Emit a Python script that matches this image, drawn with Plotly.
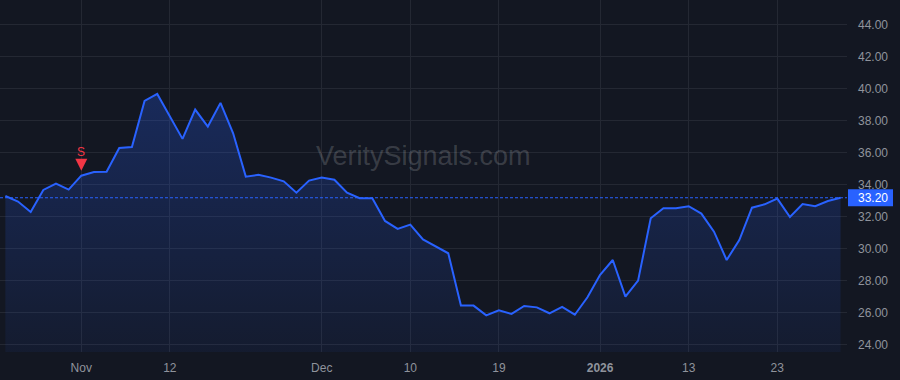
import plotly.graph_objects as go

# Trading days (Oct 24, 2025 - Jan 30, 2026)
dates = [
    "2025-10-24", "2025-10-27", "2025-10-28", "2025-10-29", "2025-10-30", "2025-10-31",
    "2025-11-03", "2025-11-04", "2025-11-05", "2025-11-06", "2025-11-07",
    "2025-11-10", "2025-11-11", "2025-11-12", "2025-11-13", "2025-11-14",
    "2025-11-17", "2025-11-18", "2025-11-19", "2025-11-20", "2025-11-21",
    "2025-11-24", "2025-11-25", "2025-11-26", "2025-11-28",
    "2025-12-01", "2025-12-02", "2025-12-03", "2025-12-04", "2025-12-05",
    "2025-12-08", "2025-12-09", "2025-12-10", "2025-12-11", "2025-12-12",
    "2025-12-15", "2025-12-16", "2025-12-17", "2025-12-18", "2025-12-19",
    "2025-12-22", "2025-12-23", "2025-12-24", "2025-12-26",
    "2025-12-29", "2025-12-30", "2025-12-31", "2026-01-02",
    "2026-01-05", "2026-01-06", "2026-01-07", "2026-01-08", "2026-01-09",
    "2026-01-12", "2026-01-13", "2026-01-14", "2026-01-15", "2026-01-16",
    "2026-01-20", "2026-01-21", "2026-01-22", "2026-01-23",
    "2026-01-26", "2026-01-27", "2026-01-28", "2026-01-29", "2026-01-30",
]

prices = [
    33.31, 32.96, 32.31, 33.69, 34.08, 33.71,
    34.58, 34.81, 34.83, 36.31, 36.37,
    39.25, 39.69, 38.27, 36.88, 38.71,
    37.65, 39.13, 37.23, 34.52, 34.63,
    34.46, 34.23, 33.52, 34.27,
    34.46, 34.33, 33.52, 33.17, 33.17,
    31.75, 31.25, 31.52, 30.60, 30.15,
    29.73, 26.46, 26.46, 25.85, 26.16,
    25.94, 26.44, 26.35, 25.98,
    26.38, 25.89, 26.98, 28.38,
    29.31, 27.02, 28.02, 31.92, 32.54,
    32.54, 32.67, 32.21, 31.08, 29.31,
    30.56, 32.58, 32.79, 33.15,
    32.00, 32.81, 32.67, 33.00, 33.20,
]

tick_dates = ["2025-11-03", "2025-11-12", "2025-12-01", "2025-12-10",
              "2025-12-19", "2026-01-02", "2026-01-13", "2026-01-23"]
tick_text = ["Nov", "12", "Dec", "10", "19", "<b>2026</b>", "13", "23"]

y_ticks = [24, 26, 28, 30, 32, 34, 36, 38, 40, 42, 44]

signal_date = "2025-11-03"
signal_label = "S"
last_price = prices[-1]
watermark = "VeritySignals.com"

BG = "#131722"
GRID = "#242833"
TXT = "#8f939c"
BLUE = "#2962ff"
RED = "#f23645"
FONT = "Liberation Sans, Arial, sans-serif"

xi = list(range(len(dates)))
tick_vals = [dates.index(d) for d in tick_dates]
sig_i = dates.index(signal_date)

fig = go.Figure()
fig.add_trace(go.Scatter(
    x=xi, y=prices, mode="lines",
    line=dict(color=BLUE, width=2),
    fill="tozeroy",
    fillgradient=dict(
        type="vertical",
        colorscale=[[0, "rgba(41,98,255,0.06)"], [1, "rgba(41,98,255,0.26)"]],
        start=23.5, stop=40,
    ),
    customdata=dates,
    hovertemplate="%{customdata}<br>%{y:.2f}<extra></extra>",
    showlegend=False,
))

# last price dotted line
fig.add_shape(type="line", xref="paper", x0=0, x1=1, yref="y",
              y0=last_price, y1=last_price,
              line=dict(color=BLUE, width=1, dash="3px,2px"), layer="above")

# price label box
fig.add_shape(type="rect", xref="paper", xsizemode="pixel", xanchor=1,
              x0=1, x1=46, yref="y", ysizemode="pixel", yanchor=last_price,
              y0=-8.5, y1=8.5, fillcolor=BLUE, line=dict(width=0), layer="above")
fig.add_annotation(xref="paper", x=1, y=last_price, yref="y",
                   xanchor="left", xshift=9, yshift=0,
                   text=f"{last_price:.2f}", showarrow=False,
                   font=dict(color="#ffffff", size=12, family=FONT))

# signal marker
fig.add_annotation(x=sig_i, y=prices[sig_i], yshift=5,
                   text=signal_label, showarrow=True,
                   arrowhead=2, arrowsize=1.2, arrowwidth=2, arrowcolor=RED,
                   ax=0, ay=-19, standoff=0, startstandoff=1,
                   font=dict(color=RED, size=12, family=FONT))

# watermark
fig.add_annotation(xref="paper", yref="y", x=423.5 / 847, y=35.8,
                   text=watermark, showarrow=False,
                   font=dict(color="rgba(255,255,255,0.17)", size=27, family=FONT))

fig.update_layout(
    width=900, height=380,
    margin=dict(l=0, r=53, t=0, b=28),
    paper_bgcolor=BG, plot_bgcolor=BG,
    font=dict(family=FONT, size=12, color=TXT),
    xaxis=dict(
        range=[-0.424, 66.51], tickmode="array", tickvals=tick_vals, ticktext=tick_text,
        showgrid=True, gridcolor=GRID, gridwidth=1, zeroline=False, showline=False,
        ticks="", ticklabelstandoff=7, tickfont=dict(size=12, color=TXT),
    ),
    yaxis=dict(
        side="right", range=[23.56, 45.56], tickmode="array", tickvals=y_ticks,
        ticktext=[f"{v:.2f}" for v in y_ticks],
        showgrid=True, gridcolor=GRID, gridwidth=1, zeroline=False, showline=False,
        ticks="", ticklabelstandoff=10, tickfont=dict(size=12, color=TXT),
    ),
    hovermode="x",
)

fig.write_html("out.html")
